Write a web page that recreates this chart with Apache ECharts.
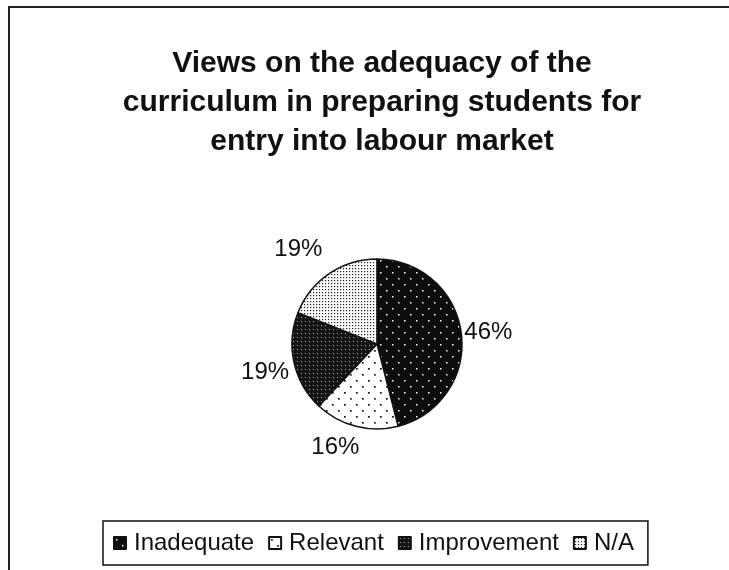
<!DOCTYPE html>
<html>
<head>
<meta charset="utf-8">
<script src="https://cdn.jsdelivr.net/npm/echarts@6/dist/echarts.min.js"></script>
<style>
  html, body { margin: 0; padding: 0; background: #fff; }
  #chart { width: 729px; height: 570px; }
</style>
</head>
<body>
<div id="chart"></div>
<script>
// Survey responses (percent of respondents)
const categories = ['Inadequate', 'Relevant', 'Improvement', 'N/A'];
const shares = [46, 16, 19, 19];
const titleText = 'Views on the adequacy of the\ncurriculum in preparing students for\nentry into labour market';

// How far each percentage label sits outside the rim, plus a small text nudge
const labelGap = [0, 18, 3, 30];
const labelNudge = [[1, -1], [10, 4], [0, 9], [12, 0]];

// Dotted fill patterns drawn on small tiles
function dotTile(size, bg, fg, dots, r) {
  const c = document.createElement('canvas');
  c.width = size; c.height = size;
  const g = c.getContext('2d');
  g.fillStyle = bg;
  g.fillRect(0, 0, size, size);
  g.fillStyle = fg;
  dots.forEach(function (p) {
    g.fillRect(p[0], p[1], r, r);
  });
  return { image: c, repeat: 'repeat' };
}

const fills = [
  dotTile(12, '#0d0d0d', '#fff', [[2, 2], [8, 8]], 1.5),
  dotTile(12, '#fff', '#111', [[2, 2], [8, 8]], 1.7),
  dotTile(4, '#151515', '#aaa', [[1, 1]], 1),
  dotTile(3, '#fff', '#222', [[1, 1]], 1.2)
];

const FONT = '"Liberation Sans", Arial, Helvetica, sans-serif';

const chart = echarts.init(document.getElementById('chart'), null, { renderer: 'canvas' });
chart.setOption({
  animation: false,
  backgroundColor: '#fff',
  graphic: [{
    type: 'rect',
    shape: { x: 9, y: 7, width: 760, height: 600 },
    style: { fill: 'none', stroke: '#222', lineWidth: 2 },
    silent: true
  }],
  title: {
    text: titleText,
    left: 377,
    textAlign: 'center',
    top: 39,
    textStyle: {
      fontFamily: FONT,
      fontWeight: 'bold',
      fontSize: 30,
      lineHeight: 39,
      color: '#111'
    }
  },
  legend: {
    data: categories,
    orient: 'horizontal',
    left: 103,
    top: 521,
    padding: [10, 14, 10, 10],
    itemGap: 14,
    itemWidth: 12,
    itemHeight: 12,
    borderColor: '#111',
    borderWidth: 1.5,
    icon: 'rect',
    textStyle: {
      fontFamily: FONT,
      fontSize: 24,
      color: '#111',
      padding: [0, 0, 0, 3]
    }
  },
  series: [{
    type: 'pie',
    center: [377, 344],
    radius: 85,
    startAngle: 90,
    clockwise: true,
    avoidLabelOverlap: false,
    itemStyle: {
      borderColor: '#111',
      borderWidth: 1.5
    },
    label: {
      show: true,
      position: 'outside',
      formatter: '{c}%',
      fontFamily: FONT,
      fontSize: 24,
      color: '#111',
      distanceToLabelLine: 2
    },
    labelLine: { show: false, length: 0, length2: 0 },
    emphasis: { disabled: true },
    data: categories.map(function (name, i) {
      return {
        name: name,
        value: shares[i],
        itemStyle: { color: fills[i] },
        label: { offset: labelNudge[i] },
        labelLine: { length: labelGap[i] }
      };
    })
  }]
});
</script>
</body>
</html>
